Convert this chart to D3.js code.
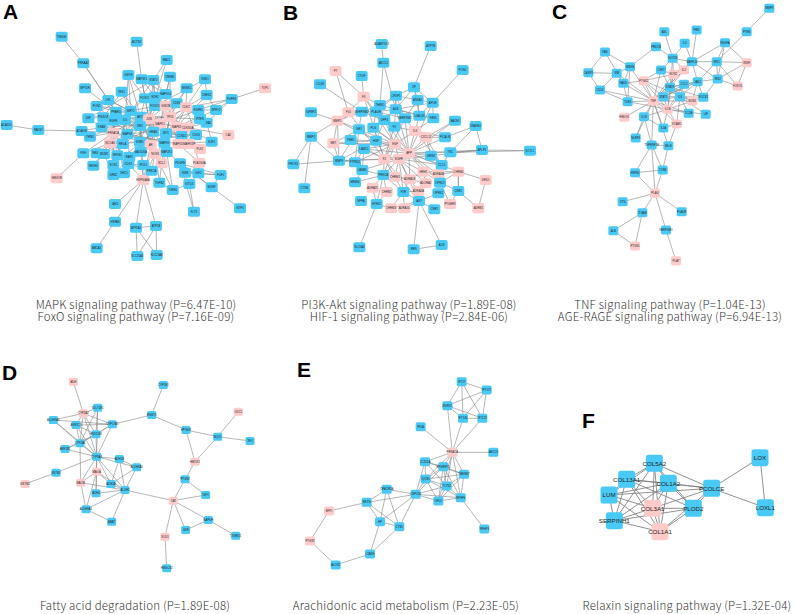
<!DOCTYPE html>
<html>
<head>
<meta charset="utf-8">
<script src="https://cdn.jsdelivr.net/npm/d3@7/dist/d3.min.js"></script>
<style>
body { margin: 0; background: #fff; }
</style>
</head>
<body>
<div id="canvas"></div>
<script>
// nodes: [gene, x, y, isPink]  (x, y in layout units of each network, 3 units = 1px)
var nodesA = [
	["TNNI3K",185,110,0],["PRKAA2",250,190,0],["ACTN2",410,125,0],["RAC1",500,180,0],["CREB1",510,230,0],
	["MKNK1",560,265,0],["SGK1",615,238,0],["CHEK2",620,285,0],["TOP1",795,265,1],["FGFR4",695,297,0],
	["SPRY2",648,330,0],["FGFR1",595,330,0],["CCNA2",620,368,0],["CA2",685,405,1],["E2F1",635,425,0],
	["NPY5R",255,265,0],["LPL",325,300,0],["PLIN1",290,318,0],["IGF1R",385,225,0],["MAP3K1",425,238,0],
	["STAT3",460,240,0],["IRS1",365,275,0],["LEP",265,355,0],["ACADVL",20,375,0],["FADS2",115,390,0],
	["ACADM",245,393,0],["TRIB1",270,410,0],["PGF",250,460,0],["NR4A1",290,460,0],["NR1H3",280,497,0],
	["HMGCR",170,535,1],["HSP90AA1",430,540,1],["JAK2",345,612,0],["HSPA8",345,665,0],["ABCA1",290,745,0],
	["ATP5A1",408,683,0],["ATP5B",468,678,0],["SLC25A4",412,768,0],["SLC25A6",470,765,0],["FLT3",582,635,0],
	["BDNF",635,562,0],["NTF3",720,625,0],["FGF2",662,525,0],["IGF2",595,520,0],["KITLG",568,552,0],
	["TGFB1",518,570,0],["TGFB2",478,548,0],["PDGFB",540,490,0],["PLA2G4A",598,488,1],["BCL2",485,490,1],
	["INSR",555,518,0],["FOXO1",435,295,0],["EZH2",465,290,0],["MAPK14",497,282,0],["FOXO3",465,318,0],
	["GSK3B",497,318,1],["CDK6",530,310,0],["CDK2",558,322,1],["PPARG",348,335,0],["SIRT1",392,333,0],
	["AKT1",422,350,0],["JUN",447,358,1],["MAPK1",480,372,1],["TP53",510,350,1],["MAPK3",530,380,1],
	["CDKN1A",563,383,1],["PTEN",600,357,0],["PIK3CA",310,352,0],["EGFR",340,362,0],["IL6",375,360,0],
	["KRAS",305,382,0],["PRKACA",340,398,1],["MAPK8",382,402,0],["SRC",420,378,0],["HRAS",460,395,0],
	["MYC",498,400,0],["CCND1",545,408,0],["CDK4",588,405,0],["NCOA3",330,430,1],["RELA",368,432,0],
	["ESR1",420,425,0],["AR",452,435,1],["MAPK9",493,428,0],["MAPK10",535,432,1],["MAPK8IP",568,432,1],
	["PLK1",600,447,1],["MDM2",312,462,0],["NFKB1",352,466,0],["RAF1",388,470,0],["GADD45A",422,455,0],
	["NOS3",465,462,1],["MAP2K1",500,456,0],["SOS1",340,495,0],["CDK1",385,492,0],["PCK1",430,495,0],
	["GRB2",340,525,0],["SHC1",372,520,0],["PRKCA",455,512,0]
];
var edgesA = [
	"TNNI3K: PRKAA2", "PRKAA2: LPL PPARG", "ACTN2: MAP3K1", "RAC1: STAT3 JUN", "CREB1: MAPK14 TP53 MAPK1",
	"MKNK1: MAPK1 CDK2 TP53", "SGK1: CDK2 FOXO3 CHEK2", "CHEK2: CDK2 SPRY2 MAPK3", "TOP1: FGFR4",
	"FGFR4: SPRY2 CDK2 CCNA2 FGFR1", "SPRY2: FGFR1 MAPK3", "FGFR1: CDK2 MAPK1", "CCNA2: CDKN1A E2F1 CDK2",
	"CA2: CDKN1A", "E2F1: CDKN1A MAPK10", "NPY5R: PPARG", "LPL: PPARG SIRT1 AKT1", "PLIN1: PPARG SIRT1 EGFR",
	"IGF1R: AKT1 FOXO1 SIRT1 IL6", "MAP3K1: FOXO1 EZH2 MAPK14 JUN", "STAT3: EZH2 JUN MAPK14 FOXO3",
	"IRS1: AKT1 PIK3CA SIRT1", "LEP: PPARG PIK3CA KRAS STAT3", "ACADVL: FADS2", "FADS2: ACADM",
	"ACADM: KRAS PRKACA", "TRIB1: PRKACA AKT1", "PGF: PRKACA NCOA3 HMGCR", "NR4A1: NCOA3 MDM2", "NR1H3: MDM2 NCOA3",
	"HSP90AA1: JAK2 HSPA8 ATP5A1 ATP5B AR ESR1 NOS3 CDK1 AKT1", "HSPA8: ABCA1", "ATP5A1: ATP5B SLC25A4 SLC25A6",
	"ATP5B: SLC25A4 SLC25A6", "FLT3: KITLG PDGFB", "NTF3: BDNF", "BDNF: FGF2 PDGFB MAP2K1", "FGF2: IGF2 PDGFB INSR",
	"IGF2: INSR KITLG PLA2G4A", "KITLG: TGFB1 PDGFB", "TGFB1: TGFB2 MAP2K1 NOS3", "TGFB2: BCL2 HRAS",
	"PLA2G4A: MAPK10 CDKN1A", "BCL2: NOS3 MAP2K1 TP53",
	"AKT1: FOXO1 FOXO3 SIRT1 JUN MAPK1 TP53 EGFR IL6 SRC HRAS ESR1 AR MAPK8 PRKACA NCOA3 RELA MDM2 NOS3 GADD45A MYC CCND1 PTEN",
	"JUN: FOXO1 EZH2 MAPK14 GSK3B MAPK1 TP53 MAPK3 SRC HRAS MAPK9 ESR1 AR RELA MAPK8 NOS3",
	"TP53: MAPK1 MAPK3 CDKN1A MDM2 MYC CCND1 CDK4 GADD45A HRAS MAPK9 MAPK10 PLK1 CDK2 EZH2",
	"MAPK1: MAPK3 GSK3B CDK2 HRAS MYC MAP2K1 SRC EGFR KRAS RAF1 MAPK8IP",
	"EGFR: SRC KRAS PIK3CA PRKACA HRAS GRB2 SHC1 SOS1 ESR1 IL6",
	"ESR1: AR NCOA3 SRC PRKACA RELA CCND1 GADD45A", "IL6: STAT3 RELA NFKB1 MAPK8 SIRT1 PPARG",
	"SIRT1: FOXO1 FOXO3 PPARG PIK3CA KRAS", "MAPK8: MAPK9 MAPK10 HRAS RAF1 RELA NFKB1 MDM2",
	"HRAS: RAF1 KRAS SOS1 GRB2 MAP2K1", "MYC: CCND1 CDK4 CDK2 CDKN1A PTEN PLK1", "CCND1: CDK4 CDKN1A MAPK8IP PTEN",
	"PRKACA: NCOA3 KRAS RELA MDM2 NFKB1", "GRB2: SHC1 SOS1 MDM2", "CDK1: PCK1 PRKCA RAF1 NFKB1 GADD45A",
	"NOS3: PRKCA MAP2K1 PCK1 MAPK9", "FOXO1: FOXO3 EZH2 MAPK14 GSK3B", "CDK2: GSK3B CDK4 MAPK3", "CDK6: CDK2 MAPK1 TP53"
];

var nodesB = [
	["ADAMTS13",350,132,0],["ABCC1",355,188,0],["ATP7B",497,138,0],["PON1",593,210,0],["F7",212,213,1],
	["CTGF",290,228,0],["C1QB",165,253,0],["F3",296,290,1],["CP",447,262,0],["THBS1",345,315,0],
	["CFDP1",393,287,0],["ANXA2",458,300,0],["APOE",503,308,0],["F10",250,337,1],["SERPINB2",290,335,0],
	["PLAUR",333,335,0],["ALB",392,328,0],["SERPINE1",420,355,0],["LGALS3",463,347,0],["FBN1",505,355,0],
	["BACE1",570,362,0],["IGFBP2",138,337,0],["MMP2",217,362,1],["DPP4",358,360,0],["PLG",325,383,0],
	["F5",388,380,0],["IL8",450,393,1],["CXCL12",483,412,1],["PICALM",540,412,0],["DNASE2",632,378,0],
	["MMP1",138,410,0],["IGF1",282,388,0],["THBD",257,420,0],["HGF",333,422,0],["MET",205,430,1],
	["EGF",390,432,1],["APP",432,460,1],["LAMC1",297,447,0],["PTPN11",270,487,0],["MMP9",222,482,0],
	["F2",358,477,1],["EGFR",402,477,1],["GRIN1",498,467,0],["TNC",556,457,0],["APLP2",651,450,0],
	["SCYL1",795,452,0],["PROS1",85,493,0],["CCL5",530,495,0],["LAMB1",292,510,0],["PRKCA",355,525,0],
	["CHRM1",390,530,1],["ADRA1B",434,538,1],["HRH1",475,515,1],["ADRA1A",520,523,1],["CHRM4",580,515,1],
	["DRD1",662,540,1],["ERBB4",270,547,0],["ADRA2C",323,563,1],["CHRM2",365,576,1],["F2R",415,576,0],
	["ADRA2A",460,573,1],["ADORA2",482,549,1],["OPRD1",525,548,0],["OPRK1",520,580,0],["CNR2",580,573,0],
	["PTGER3",555,612,1],["ADRB1",640,625,1],["NPPA",288,603,0],["HTR2C",335,612,0],["CHRM3",378,625,1],
	["ADRA1D",418,625,1],["AGT",462,603,0],["CNR1",508,628,0],["SLC6A4",283,742,0],["REN",446,748,0],
	["ACE",530,735,0],["CTSB",118,565,0]
];
var edgesB = [
	"ADAMTS13: ABCC1", "ABCC1: THBS1 ALB", "ATP7B: CP", "PON1: APOE", "F7: F3 F10", "CTGF: F3", "C1QB: SERPINB2",
	"F3: F10 THBS1 PLAUR F2 EGF", "F10: F2 MMP2 SERPINB2", "CP: ALB APOE LGALS3 CFDP1 ANXA2",
	"THBS1: CFDP1 ALB PLAUR DPP4", "APOE: LGALS3 FBN1 ANXA2 ALB APP", "IGFBP2: MMP2",
	"MMP2: IGF1 HGF MET SERPINB2 THBS1 MMP9 MMP1", "BACE1: APP CXCL12", "DNASE2: APLP2 TNC PICALM",
	"APLP2: SCYL1 APP TNC GRIN1", "MMP1: MMP9 PROS1 CTSB", "MMP9: PROS1 MET HGF IGF1 PTPN11 F2 EGFR",
	"THBD: HGF F2", "MET: HGF IGF1 EGF",
	"APP: EGF F2 EGFR IL8 CXCL12 PICALM GRIN1 TNC CCL5 ALB SERPINE1 PLG F5 DPP4 HGF LAMC1 HRH1 CHRM4 ADRA1A OPRD1 ADRA1B",
	"EGF: EGFR F2 HGF IGF1 PLG IL8 DPP4 LAMC1 PTPN11 PRKCA",
	"EGFR: F2 PRKCA CHRM1 ADRA1B HRH1 F2R AGT ADORA2 LAMB1 CCL5 GRIN1",
	"F2: F2R PLG F5 PRKCA LAMC1 SERPINE1 AGT", "ALB: SERPINE1 F5 DPP4 LGALS3 FBN1 PLG CFDP1",
	"IL8: CXCL12 CCL5 SERPINE1 F5 PICALM", "CXCL12: CCL5 GRIN1 PICALM",
	"PRKCA: CHRM1 CHRM2 ADRA2C F2R HTR2C ERBB4 ADRA1B",
	"AGT: REN ACE F2R ADRA2A OPRK1 CNR1 ADORA2 ADRA1D CHRM3", "REN: ACE",
	"HTR2C: SLC6A4 CHRM3 ADRA2C CHRM2", "ADRA1B: HRH1 ADORA2 ADRA2A F2R CHRM1",
	"HRH1: ADRA1A CHRM4 OPRD1 ADORA2", "OPRD1: OPRK1 CNR2 CHRM4 PTGER3 ADRA1A", "CNR2: PTGER3 ADRB1 CHRM4",
	"DRD1: CHRM4 ADRB1", "CHRM4: ADRA1A CNR2", "F2R: CHRM3 ADRA1D ADRA2A", "ERBB4: LAMB1",
	"LAMB1: LAMC1 PTPN11 PRKCA", "PTPN11: LAMC1 IGF1", "SERPINB2: PLAUR DPP4 IGF1",
	"PLAUR: DPP4 ALB PLG CFDP1 SERPINE1", "CFDP1: SERPINE1 ANXA2 ALB", "ANXA2: LGALS3 SERPINE1",
	"LGALS3: FBN1 IL8", "FBN1: IL8", "CCL5: TNC GRIN1", "TNC: SCYL1", "HGF: IGF1 LAMC1 DPP4", "IGF1: THBD"
];

var nodesC = [
	["MMP9",718,25,0],["PTEN",650,95,0],["VEGFA",585,128,0],["ASL",403,95,0],["PIM1",500,90,0],
	["IL3",464,130,0],["PRKCB",378,140,0],["FAS",225,156,0],["IKBKB",300,200,0],["CASP3",175,218,0],
	["VIM",260,220,0],["CD14",210,270,0],["FADD",280,250,0],["TLR4",293,305,0],["NOS2",430,223,1],
	["CSF2",393,210,0],["SOCS3",428,175,0],["IL2",462,210,1],["MAPK14",486,185,0],["IRS1",560,185,0],
	["INSR",650,188,1],["IRS2",563,237,0],["FOXO1",623,258,1],["JAK2",503,245,0],["CCL2",462,253,0],
	["STAT3",420,262,0],["PTGS2",341,242,1],["STAT1",400,290,0],["TNF",370,303,1],["IL6",450,290,0],
	["EDN1",487,303,1],["SOCS1",520,292,0],["IL1B",413,328,1],["IL12A",476,340,0],["LIF",527,343,0],
	["HMOX1",283,352,1],["IL18",342,350,0],["VCAM1",440,372,1],["IL1A",400,384,0],["NLRP3",317,414,0],
	["TNFRSF1B",365,435,0],["SELE",415,437,0],["CYBB",398,510,0],["HSPB1",315,518,0],["PLAU",375,580,1],
	["VTN",278,605,0],["ITGAM",337,638,0],["PLAUR",455,635,0],["ALB",250,692,0],["SERPINE1",408,690,0],
	["PTGS1",315,738,1],["PLAT",438,782,1]
];
var edgesC = [
	"MMP9: PTEN", "PTEN: IRS1", "VEGFA: IRS1 INSR IRS2 MAPK14", "ASL: SOCS3", "PIM1: MAPK14", "IL3: SOCS3 MAPK14",
	"PRKCB: SOCS3 IKBKB", "FAS: CASP3 IKBKB FADD", "CASP3: VIM CD14", "IKBKB: FADD TLR4 VIM TNF",
	"VIM: FADD CD14 TNF", "CD14: TLR4 TNF", "FADD: TLR4 TNF PTGS2", "TLR4: TNF IL1B",
	"SOCS3: CSF2 NOS2 IL2 MAPK14 STAT3", "MAPK14: IRS1 NOS2 IL2 JAK2 IRS2 TNF", "IRS1: INSR IRS2 JAK2 FOXO1",
	"INSR: IRS2 FOXO1", "IRS2: FOXO1 JAK2 SOCS1", "JAK2: STAT3 CCL2 SOCS1 EDN1 IL6 STAT1 TNF",
	"TNF: PTGS2 STAT1 STAT3 IL1B IL6 CSF2 NOS2 HMOX1 IL18 VCAM1 IL1A NLRP3 TNFRSF1B SELE CCL2 IL12A EDN1 IL2",
	"IL1B: STAT1 STAT3 IL6 VCAM1 IL1A IL18 IL12A LIF SOCS1 CCL2 NOS2 PTGS2",
	"STAT3: STAT1 IL6 CCL2 CSF2 NOS2 IL2 EDN1 SOCS1", "IL6: CCL2 EDN1 SOCS1 IL12A LIF VCAM1 STAT1",
	"PTGS2: CSF2 STAT1 NOS2 EDN1", "IL18: NLRP3 IL1A TNFRSF1B", "VCAM1: SELE IL1A",
	"TNFRSF1B: SELE CYBB HSPB1 PLAU", "CYBB: HSPB1 PLAU SELE", "PLAU: VTN ITGAM PLAUR SERPINE1 HSPB1",
	"ITGAM: ALB PTGS1", "ALB: PTGS1", "SERPINE1: PLAT", "NOS2: CSF2 IL2"
];

var nodesD = [
	["ADH",220,155,1],["CYP2E1",490,165,0],["CYP1A2",250,250,1],["SULT1E1",293,233,0],["ALDH3A1",160,270,0],
	["AKR1C3",228,285,0],["CYP17A1",337,283,0],["MGST1",455,255,0],["ODC1",715,245,1],["HSD11B1",288,313,0],
	["CYP2A6",240,340,0],["AKR1B1",195,357,0],["HPGDS",558,300,0],["NQO1",653,320,0],["TPO",750,333,0],
	["CYP3A4",290,380,0],["ADH1B",358,387,0],["ALDH5A1",410,412,0],["MAOA",290,425,1],["HMOX1",585,395,1],
	["GSTM1",168,428,0],["GSTM2",75,462,1],["MAOB",242,458,1],["ADH1A",333,462,0],["ALDH2",375,480,0],
	["ADH4",288,490,0],["PTGS2",555,448,0],["IGF1",617,495,0],["CAT",520,512,1],["ALDH9A1",258,538,0],
	["GAPDH",625,570,0],["GSR",557,600,0],["ABAT",335,575,0],["SOD1",495,620,1],["TXNRD1",707,617,0],
	["HMGCS2",500,715,0]
];
var edgesD = [
	"ADH: CYP1A2", "CYP2E1: MGST1", "MGST1: CYP17A1 HPGDS", "ODC1: NQO1", "NQO1: TPO HPGDS HMOX1",
	"HPGDS: HMOX1", "HMOX1: PTGS2", "PTGS2: CAT IGF1", "CAT: ALDH2 IGF1 GAPDH GSR SOD1", "GAPDH: GSR TXNRD1",
	"SOD1: HMGCS2", "CYP1A2: ALDH3A1 AKR1C3 SULT1E1 CYP17A1 HSD11B1 CYP3A4 CYP2A6",
	"ALDH3A1: CYP2A6 CYP3A4 CYP17A1", "AKR1C3: HSD11B1 CYP17A1 CYP3A4 CYP2A6", "SULT1E1: HSD11B1 CYP3A4 CYP2A6",
	"CYP17A1: HSD11B1 CYP3A4 CYP2A6", "HSD11B1: CYP3A4 CYP2A6 AKR1B1", "CYP2A6: CYP3A4 AKR1B1 MAOB",
	"CYP3A4: ADH1B ALDH5A1 MAOA ADH1A ALDH2 ADH4 MAOB GSTM1 AKR1B1", "ADH1B: ALDH5A1 ALDH2 ADH1A",
	"ALDH5A1: ALDH2 ADH1A", "MAOA: MAOB ADH4 ALDH2 ADH1A ALDH9A1", "MAOB: ALDH9A1 ALDH2",
	"ALDH2: ADH4 ADH1A ABAT ALDH9A1", "ALDH9A1: ABAT", "GSTM1: GSTM2"
];

var nodesE = [
	["IFT27",590,155,0],["IFT172",665,180,0],["WDR35",547,227,0],["IFT140",594,265,0],["IFT122",652,265,0],
	["PKIA",467,290,0],["PRKACA",562,367,1],["ABCC9",685,367,0],["CC2D2A",480,395,0],["RPGRIP1L",535,410,0],
	["TMEM67",597,433,0],["IQCB1",482,447,0],["CEP290",452,493,0],["TCTN2",545,468,0],["OFD1",520,513,0],
	["NPHP4",587,503,0],["NPHP3",658,597,0],["CRACR2A",365,478,0],["RETN",305,517,0],["HP",345,575,0],
	["CTSD",403,590,0],["MPO",192,543,1],["PTGS1",135,633,1],["LTA4H",315,672,0],["ALOX5",212,705,0]
];
var edgesE = [
	"IFT27: IFT172 WDR35 IFT140 IFT122", "IFT172: WDR35 IFT140 IFT122", "WDR35: IFT140 IFT122 PRKACA",
	"IFT140: IFT122 PRKACA", "IFT122: PRKACA", "PKIA: PRKACA",
	"PRKACA: ABCC9 CC2D2A RPGRIP1L TMEM67 IQCB1 TCTN2 NPHP4 OFD1",
	"CC2D2A: RPGRIP1L IQCB1 TCTN2 CEP290 TMEM67", "RPGRIP1L: TMEM67 IQCB1 TCTN2 OFD1 NPHP4 CEP290",
	"TMEM67: TCTN2 NPHP4 IQCB1 OFD1", "IQCB1: TCTN2 CEP290 OFD1 NPHP4", "TCTN2: CEP290 OFD1 NPHP4",
	"CEP290: OFD1 NPHP4 CRACR2A RETN HP CTSD", "NPHP4: NPHP3 OFD1", "CRACR2A: RETN HP CTSD",
	"RETN: MPO HP CTSD", "HP: CTSD LTA4H", "CTSD: LTA4H", "MPO: PTGS1", "PTGS1: ALOX5", "ALOX5: LTA4H"
];

var nodesF = [
	["COL5A2",373,100,0],["COL13A1",290,148,0],["COL1A2",415,160,0],["LUM",237,195,0],["COL3A1",368,235,1],
	["PLOD2",490,235,0],["PCOLCE",545,175,0],["SERPINH1",253,272,0],["COL1A1",390,305,1],["LOX",690,83,0],
	["LOXL1",706,233,0]
];
var edgesF = [
	"LOX: PCOLCE LOXL1", "PCOLCE: LOXL1 COL5A2 COL1A2 COL3A1 COL1A1 PLOD2 COL13A1 LUM",
	"COL5A2: COL13A1 COL1A2 LUM COL3A1 PLOD2 SERPINH1 COL1A1", "COL13A1: COL1A2 LUM COL3A1 PLOD2 SERPINH1 COL1A1",
	"COL1A2: LUM COL3A1 PLOD2 SERPINH1 COL1A1", "LUM: COL3A1 SERPINH1 COL1A1", "COL3A1: PLOD2 SERPINH1 COL1A1",
	"PLOD2: COL1A1 SERPINH1", "SERPINH1: COL1A1"
];

var panelLetters = ["A", "B", "C", "D", "E", "F"];
var captions = [
	["MAPK signaling pathway (P=6.47E-10)", "FoxO signaling pathway (P=7.16E-09)"],
	["PI3K-Akt signaling pathway (P=1.89E-08)", "HIF-1 signaling pathway (P=2.84E-06)"],
	["TNF signaling pathway (P=1.04E-13)", "AGE-RAGE signaling pathway (P=6.94E-13)"],
	["Fatty acid degradation (P=1.89E-08)"],
	["Arachidonic acid metabolism (P=2.23E-05)"],
	["Relaxin signaling pathway (P=1.32E-04)"]
];

var width = 796, height = 614;
var blue = "#49c9f5", pink = "#ffcaca";
var svg = d3.select("#canvas").append("svg").attr("width", width).attr("height", height);

// layout of the six panels
var panels = [
	{ nodes: nodesA, edges: edgesA, ox: 0,   oy: 0,   w: 12, h: 10, fs: 2.8, sw: 0.6, lx: 3,   ly: 19,  cx: 136, cy: 309 },
	{ nodes: nodesB, edges: edgesB, ox: 265, oy: 0,   w: 12, h: 10, fs: 2.8, sw: 0.6, lx: 283, ly: 20,  cx: 409, cy: 309 },
	{ nodes: nodesC, edges: edgesC, ox: 530, oy: 0,   w: 10, h: 9,  fs: 2.8, sw: 0.6, lx: 552, ly: 19,  cx: 670, cy: 309 },
	{ nodes: nodesD, edges: edgesD, ox: 0,   oy: 330, w: 9,  h: 8,  fs: 2.8, sw: 0.6, lx: 2,   ly: 380, cx: 135, cy: 610 },
	{ nodes: nodesE, edges: edgesE, ox: 265, oy: 330, w: 10, h: 9,  fs: 2.8, sw: 0.6, lx: 297, ly: 377, cx: 406, cy: 610 },
	{ nodes: nodesF, edges: edgesF, ox: 530, oy: 430, w: 17, h: 17, fs: 6.2, sw: 0.9, lx: 582, ly: 428, cx: 687, cy: 610 }
];

var parseEdges = function(list) {
	var out = [];
	list.forEach(function(s) {
		var parts = s.split(":");
		var src = parts[0].trim();
		parts[1].trim().split(/\s+/).forEach(function(t) {
			out.push([src, t]);
		});
	});
	return out;
};

panels.forEach(function(p, i) {
	var x = d3.scaleLinear().domain([0, 810]).range([p.ox, p.ox + 270]);
	var y = d3.scaleLinear().domain([0, 870]).range([p.oy, p.oy + 290]);
	var g = svg.append("g").attr("class", "panel");
	var byName = {};
	p.nodes.forEach(function(n) { byName[n[0]] = n; });

	var links = parseEdges(p.edges).filter(function(e) {
		return byName[e[0]] && byName[e[1]];
	});

	g.selectAll("line").data(links).enter().append("line")
		.attr("x1", function(d) { return x(byName[d[0]][1]); })
		.attr("y1", function(d) { return y(byName[d[0]][2]); })
		.attr("x2", function(d) { return x(byName[d[1]][1]); })
		.attr("y2", function(d) { return y(byName[d[1]][2]); })
		.attr("stroke", "#858585")
		.attr("stroke-width", p.sw);

	var node = g.selectAll("g.node").data(p.nodes).enter().append("g")
		.attr("class", "node")
		.attr("transform", function(d) { return "translate(" + x(d[1]) + "," + y(d[2]) + ")"; });

	node.append("rect")
		.attr("x", -p.w / 2).attr("y", -p.h / 2)
		.attr("width", p.w).attr("height", p.h)
		.attr("rx", p.w / 6).attr("ry", p.w / 6)
		.attr("fill", function(d) { return d[3] ? pink : blue; });

	// tiny labels: drawn at 10px then scaled down
	node.append("text")
		.text(function(d) { return d[0]; })
		.attr("text-anchor", "middle")
		.attr("dy", "0.35em")
		.attr("transform", "scale(" + (p.fs / 10) + ")")
		.style("font-family", "'Liberation Sans', Arial, sans-serif")
		.style("font-size", "10px")
		.style("fill", "#222");

	// panel letter
	svg.append("text").text(panelLetters[i])
		.attr("x", p.lx).attr("y", p.ly)
		.style("font-family", "'Liberation Sans', Arial, sans-serif")
		.style("font-weight", "bold")
		.style("font-size", "21px")
		.style("fill", "#000");

	// pathway captions, two lines set tight as in the figure
	captions[i].forEach(function(c, k) {
		svg.append("text").text(c)
			.attr("x", p.cx).attr("y", p.cy + k * 12)
			.attr("text-anchor", "middle")
			.style("font-family", "'Noto Sans CJK SC', 'Noto Sans', sans-serif")
			.style("font-weight", 300)
			.style("font-size", "11.5px")
			.style("letter-spacing", "0.22px")
			.style("fill", "#333");
	});
});
</script>
</body>
</html>
